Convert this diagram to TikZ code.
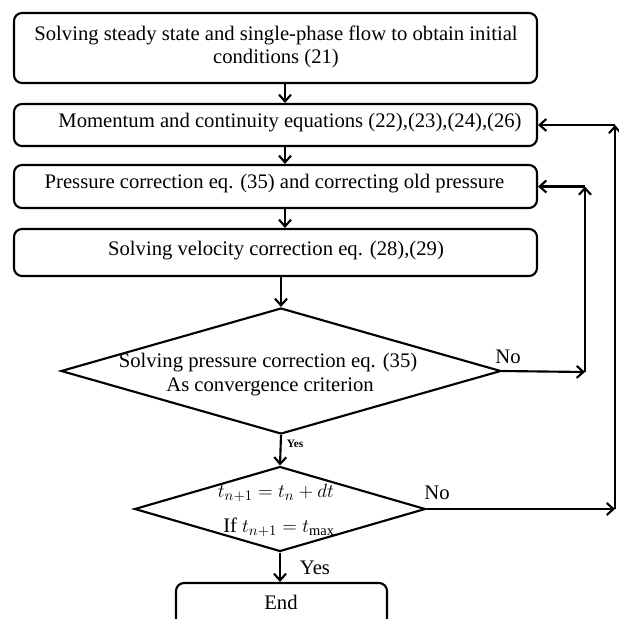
\documentclass[tikz,border=0pt]{standalone}
\usepackage{amsmath}
\usepackage{fontspec}
\setmainfont{Liberation Serif}
\usetikzlibrary{shapes.geometric,arrows.meta}

\tikzset{
  stepbox/.style={draw, rounded corners=6pt, line width=1.6pt, inner sep=0pt},
  decision/.style={draw, diamond, line width=1.6pt, inner sep=0pt},
  flow/.style={-{Straight Barb[length=5pt,width=9pt]}, line width=1.6pt},
  lbl/.style={inner sep=0.75pt, font=\fontsize{15.5}{17}\selectfont},
  small/.style={inner sep=0.75pt, font=\fontsize{8.5}{10}\selectfont\bfseries},
}

\begin{document}
\begin{tikzpicture}[x=0.75pt,y=0.75pt,yscale=-1,xscale=1]
        \clip (0,0) rectangle (619,619);

        % Boxes
        \node [stepbox, minimum width=392.25pt, minimum height=52.5pt] (init) at (275.5,48) {};
        \node [stepbox, minimum width=392.25pt, minimum height=31.5pt] (mom) at (275.5,125) {};
        \node [stepbox, minimum width=392.25pt, minimum height=32.25pt] (corr) at (275.5,186.5) {};
        \node [stepbox, minimum width=392.25pt, minimum height=35.25pt] (vel) at (275.5,252.5) {};
        % Decisions
        \node [decision, minimum width=330pt, minimum height=94.5pt] (conv) at (281,371) {};
        \node [decision, minimum width=218.25pt, minimum height=63.75pt] (time) at (280,509) {};
        \node [stepbox, minimum width=158.25pt, minimum height=45pt] (end) at (281.5,613) {};

        % Loop corners
        \coordinate (spine) at (285,0);
        \coordinate (c1) at (585,372);
        \coordinate (c2) at (615,509);

        % Arrows
        \draw [flow] (init.south -| spine) -- (mom.north -| spine);
        \draw [flow] (mom.south -| spine) -- (corr.north -| spine);
        \draw [flow] (corr.south -| spine) -- (vel.north -| spine);
        \draw [flow] (vel.south -| conv) -- (conv.north);
        \draw [flow] (conv.south) -- (time.north);
        \draw [flow] (time.south) -- (end.north -| time.south);
        % inner loop
        \draw [flow] (conv.east) -- (c1);
        \draw [flow] (c1) -- (c1 |- corr.east);
        \draw [flow] (c1 |- corr.east) -- (corr.east);
        % outer loop
        \draw [flow] (time.east) -- (c2);
        \draw [flow] (c2) -- (c2 |- mom.east);
        \draw [flow] (c2 |- mom.east) -- (mom.east);

        % Text Node
        \node [lbl, align=center] (t1) at (276,47) {Solving steady state and single-phase flow to obtain initial\\conditions (21)};
        \node [lbl] (t2) at (290,123) {Momentum and continuity equations (22),(23),(24),(26)};
        \node [lbl] (t3) at (274.5,184) {Pressure correction eq. (35) and correcting old pressure};
        \node [lbl] (t4) at (276,251) {Solving velocity correction eq. (28),(29)};
        \node [lbl] (t5) at (268,363) {Solving pressure correction eq. (35)};
        \node [lbl] (t6) at (270,387) {As convergence criterion};
        \node [lbl] (t7) at (276,493) {$t_{n+1}=t_n+dt$};
        \node [lbl] (t8) at (279,527) {If $t_{n+1}=t_{\max}$};
        \node [lbl] (t9) at (281,602) {End};
        \node [lbl] (no1) at (508,357) {No};
        \node [lbl] (no2) at (437,493) {No};
        \node [small] (yes1) at (295,444) {Yes};
        \node [lbl] (yes2) at (315,568) {Yes};
\end{tikzpicture}
\end{document}
